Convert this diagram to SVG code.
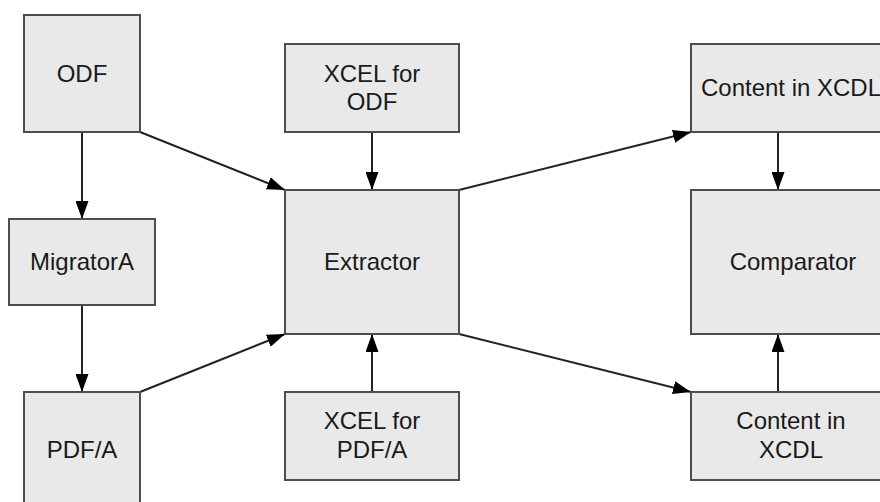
<svg xmlns="http://www.w3.org/2000/svg" width="880" height="502" viewBox="0 0 880 502">
<style>
.box{fill:#e9e9e9;stroke:#4d4d4d;stroke-width:2}
.lbl{font-family:"Liberation Sans",Arial,sans-serif;font-size:24px;fill:#1a1a1a;text-anchor:middle}
.edge{stroke:#222;stroke-width:2;fill:none;marker-end:url(#ah)}
</style>
<defs>
<marker id="ah" markerUnits="userSpaceOnUse" markerWidth="18" markerHeight="13" refX="18" refY="6.5" orient="auto">
<path d="M0,0 L18,6.5 L0,13 z" fill="#000"/>
</marker>
</defs>
<rect width="880" height="502" fill="#fff"/>
<g id="connectors">
<line class="edge" x1="82" y1="132" x2="82" y2="219"/>
<line class="edge" x1="82" y1="305" x2="82" y2="392"/>
<line class="edge" x1="140" y1="132" x2="285" y2="190"/>
<line class="edge" x1="140" y1="392" x2="285" y2="334"/>
<line class="edge" x1="372" y1="132" x2="372" y2="190"/>
<line class="edge" x1="372" y1="392" x2="372" y2="334"/>
<line class="edge" x1="459" y1="190" x2="691" y2="132"/>
<line class="edge" x1="459" y1="334" x2="691" y2="392"/>
<line class="edge" x1="778" y1="132" x2="778" y2="190"/>
<line class="edge" x1="778" y1="392" x2="778" y2="334"/>
</g>
<g id="odf"><rect class="box" x="24" y="15" width="116" height="117"/><text class="lbl" x="82" y="82">ODF</text></g>
<g id="migrator"><rect class="box" x="9" y="219" width="146" height="86"/><text class="lbl" x="82" y="270">MigratorA</text></g>
<g id="pdfa"><rect class="box" x="24" y="392" width="116" height="116"/><text class="lbl" x="82" y="458">PDF/A</text></g>
<g id="xcel-odf"><rect class="box" x="285" y="44" width="174" height="88"/><text class="lbl" x="372" y="82">XCEL for</text><text class="lbl" x="372" y="110">ODF</text></g>
<g id="extractor"><rect class="box" x="285" y="190" width="174" height="144"/><text class="lbl" x="372" y="270">Extractor</text></g>
<g id="xcel-pdfa"><rect class="box" x="285" y="392" width="174" height="88"/><text class="lbl" x="372" y="429">XCEL for</text><text class="lbl" x="372" y="458">PDF/A</text></g>
<g id="content-top"><rect class="box" x="691" y="44" width="204" height="88"/><text class="lbl" x="791" y="96">Content in XCDL</text></g>
<g id="comparator"><rect class="box" x="691" y="190" width="204" height="144"/><text class="lbl" x="793" y="270">Comparator</text></g>
<g id="content-bottom"><rect class="box" x="691" y="392" width="204" height="88"/><text class="lbl" x="791" y="429">Content in</text><text class="lbl" x="791" y="458">XCDL</text></g>
</svg>
